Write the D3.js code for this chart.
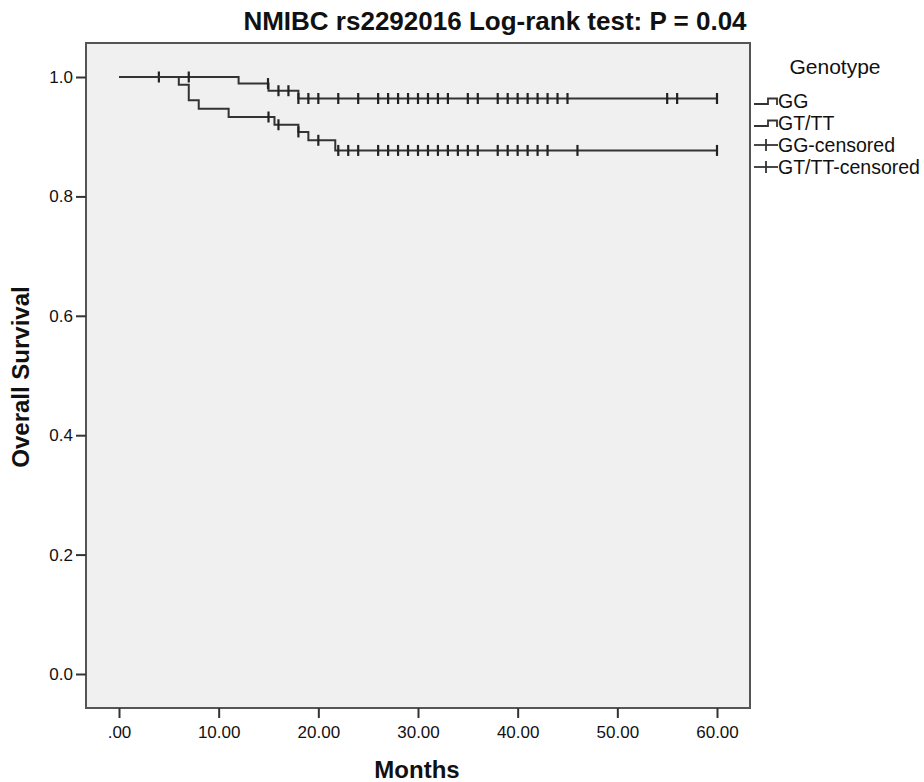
<!DOCTYPE html>
<html>
<head>
<meta charset="utf-8">
<script src="https://cdn.jsdelivr.net/npm/d3@7"></script>
<style>
  body { margin: 0; background: #fff; }
  text { font-family: "Liberation Sans", Arial, sans-serif; fill: #111; }
</style>
</head>
<body>
<div id="chart"></div>
<script>
// step data
var ggTimes = [0, 12, 15, 18, 60];
var ggSurv  = [1, 0.989, 0.977, 0.964, 0.964];
var gtTimes = [0, 6, 7, 8, 11, 15.6, 18, 19, 21.7, 60];
var gtSurv  = [1, 0.987, 0.961, 0.947, 0.933, 0.920, 0.908, 0.894, 0.877, 0.877];

// censored cases (months)
var ggCensored = [4, 7, 14.95, 16, 17, 18, 19, 20, 22, 24, 26, 27, 28, 29, 30, 31, 32, 33,
                  35, 36, 38, 39, 40, 41, 42, 43, 44, 45, 55, 56, 60];
var gtCensored = [15, 16, 18, 20, 22, 23, 24, 26, 27, 28, 29, 30, 31, 32, 33, 34, 35, 36,
                  38, 39, 40, 41, 42, 43, 46, 60];

var xTicks = [0, 10, 20, 30, 40, 50, 60];
var yTicks = [0, 0.2, 0.4, 0.6, 0.8, 1.0];
var legendLabels = ["GG", "GT/TT", "GG-censored", "GT/TT-censored"];

var width = 924, height = 782;
var frame = {left: 86, right: 750, top: 43, bottom: 708};

var svg = d3.select("#chart").append("svg")
	.attr("width", width)
	.attr("height", height);

var x = d3.scaleLinear().domain([0, 60]).range([119, 717]);
var y = d3.scaleLinear().domain([0, 1]).range([674, 77]);

// plot background + frame
svg.append("rect")
	.attr("x", frame.left).attr("y", frame.top)
	.attr("width", frame.right - frame.left)
	.attr("height", frame.bottom - frame.top)
	.style("fill", "#f0f0f0")
	.style("stroke", "#555")
	.style("stroke-width", 2);

// axes
var xAxis = svg.append("g")
	.attr("transform", "translate(0," + frame.bottom + ")")
	.call(d3.axisBottom(x).tickValues(xTicks).tickSize(10).tickSizeOuter(0)
		.tickFormat(function(d) { return d === 0 ? ".00" : d3.format(".2f")(d); }));
xAxis.select(".domain").remove();
xAxis.selectAll("line").style("stroke", "#333").style("stroke-width", 2);
xAxis.selectAll("text").attr("y", 30).attr("dy", 0).style("font-size", "17px")
	.style("font-family", "'Liberation Sans', Arial, sans-serif").style("fill", "#111");

var yAxis = svg.append("g")
	.attr("transform", "translate(" + frame.left + ",0)")
	.call(d3.axisLeft(y).tickValues(yTicks).tickSize(10).tickSizeOuter(0)
		.tickFormat(d3.format(".1f")));
yAxis.select(".domain").remove();
yAxis.selectAll("line").style("stroke", "#333").style("stroke-width", 2);
yAxis.selectAll("text").attr("x", -13).style("font-size", "17px")
	.style("font-family", "'Liberation Sans', Arial, sans-serif").style("fill", "#111");

// survival step lines
function steps(times, surv) {
	return times.map(function(t, i) { return {t: t, s: surv[i]}; });
}
function survAt(times, surv, t) {
	var s = surv[0];
	for (var i = 0; i < times.length; i++) {
		if (times[i] <= t) s = surv[i];
	}
	return s;
}

var line = d3.line()
	.x(function(d) { return x(d.t); })
	.y(function(d) { return y(d.s); })
	.curve(d3.curveStepAfter);

var groups = [
	{times: ggTimes, surv: ggSurv, cens: ggCensored},
	{times: gtTimes, surv: gtSurv, cens: gtCensored}
];

groups.forEach(function(g) {
	svg.append("path")
		.attr("d", line(steps(g.times, g.surv)))
		.style("fill", "none")
		.style("stroke", "#333")
		.style("stroke-width", 2);

	svg.selectAll(null)
		.data(g.cens)
		.enter()
		.append("line")
		.attr("x1", function(d) { return x(d); })
		.attr("x2", function(d) { return x(d); })
		.attr("y1", function(d) { return y(survAt(g.times, g.surv, d)) - 5.5; })
		.attr("y2", function(d) { return y(survAt(g.times, g.surv, d)) + 5.5; })
		.style("stroke", "#222")
		.style("stroke-width", 2.2);
});

// title and axis labels
svg.append("text")
	.attr("x", 495).attr("y", 30)
	.attr("text-anchor", "middle")
	.style("font-size", "26px")
	.style("font-weight", "bold")
	.text("NMIBC rs2292016 Log-rank test: P = 0.04");

svg.append("text")
	.attr("x", 417).attr("y", 778)
	.attr("text-anchor", "middle")
	.style("font-size", "24px")
	.style("font-weight", "bold")
	.text("Months");

svg.append("text")
	.attr("transform", "translate(29,377) rotate(-90)")
	.attr("text-anchor", "middle")
	.style("font-size", "24px")
	.style("font-weight", "bold")
	.text("Overall Survival");

// legend
svg.append("text")
	.attr("x", 835).attr("y", 74)
	.attr("text-anchor", "middle")
	.style("font-size", "21px")
	.text("Genotype");

var legend = svg.selectAll(".legend")
	.data(legendLabels)
	.enter()
	.append("g")
	.attr("class", "legend")
	.attr("transform", function(d, i) { return "translate(0," + (101 + i * 22) + ")"; });

legend.each(function(d, i) {
	var g = d3.select(this);
	if (i < 2) {
		g.append("path")
			.attr("d", "M754,3 H768 V-2.5 H777 V4")
			.style("fill", "none")
			.style("stroke", "#333")
			.style("stroke-width", 1.8);
	} else {
		g.append("line").attr("x1", 754).attr("x2", 778).attr("y1", 0).attr("y2", 0)
			.style("stroke", "#333").style("stroke-width", 1.8);
		g.append("line").attr("x1", 766).attr("x2", 766).attr("y1", -6).attr("y2", 6)
			.style("stroke", "#333").style("stroke-width", 1.8);
	}
});

legend.append("text")
	.attr("x", 778)
	.attr("y", 7)
	.style("font-size", "19.5px")
	.text(function(d) { return d; });
</script>
</body>
</html>
